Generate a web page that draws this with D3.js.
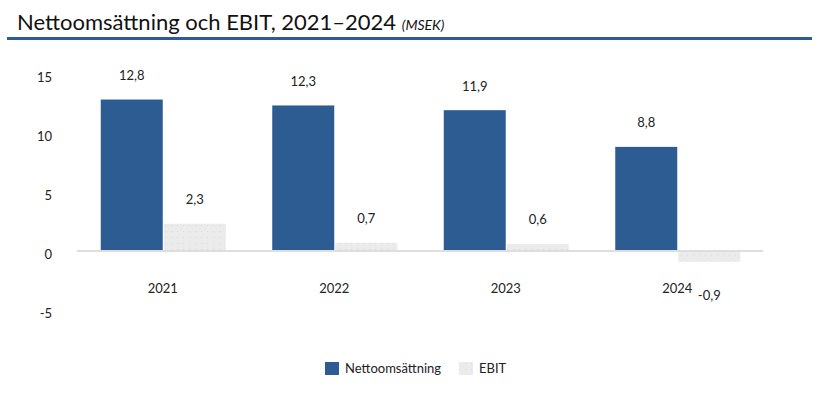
<!DOCTYPE html>
<html><head><meta charset="utf-8">
<script src="https://cdn.jsdelivr.net/npm/d3@7"></script>
<style>body{margin:0;background:#fff}svg{display:block}text{font-family:Lato,"Open Sans",sans-serif;fill:#222}</style>
</head><body><svg id="c" width="820" height="397"></svg>
<script>
const categories = ["2021","2022","2023","2024"];
const netto = [12.8,12.3,11.9,8.8];
const ebit = [2.3,0.7,0.6,-0.9];
const yTicks = [-5,0,5,10,15];
const seriesNames = ["Nettoomsättning","EBIT"];
const colors = ["#2c5c92","#ebebeb"];

const svg = d3.select("#c");
const defs = svg.append("defs");
const pat = defs.append("pattern").attr("id","dots").attr("width",6).attr("height",6).attr("patternUnits","userSpaceOnUse");
pat.append("rect").attr("width",6).attr("height",6).attr("fill","#ebebeb");
pat.append("rect").attr("x",3).attr("y",3).attr("width",1).attr("height",1).attr("fill","#dcdcdc");

// title
const t = svg.append("text").attr("x",17).attr("y",30).style("font-size","22px").style("font-weight","400").style("fill","#111");
t.append("tspan").text("Nettoomsättning och EBIT, 2021–2024 ");
t.append("tspan").style("font-size","14px").style("font-style","italic").text("(MSEK)");
svg.append("rect").attr("x",7).attr("y",37).attr("width",805).attr("height",3).attr("fill","#2c5c92");

const x = d3.scaleBand().domain(categories).range([77,763]).padding(0);
const y = d3.scaleLinear().domain([-5,15]).range([310.2,73.5]);
const bw = 62;

// y axis labels
svg.append("g").selectAll("text").data(yTicks).join("text")
  .attr("x",52).attr("y",d=>y(d)+3.5).attr("dy","0.35em").attr("text-anchor","end")
  .style("font-size","13px").text(d=>d);

// bars
const cx = c => x(c)+x.bandwidth()/2;
svg.append("g").selectAll("rect").data(categories).join("rect")
  .attr("x",c=>cx(c)-bw).attr("width",bw)
  .attr("y",(c,i)=>y(netto[i])).attr("height",(c,i)=>y(0)-y(netto[i]))
  .attr("fill",colors[0]);
svg.append("g").selectAll("rect").data(categories).join("rect")
  .attr("x",c=>cx(c)+1).attr("width",bw)
  .attr("y",(c,i)=>y(Math.max(0,ebit[i]))).attr("height",(c,i)=>Math.abs(y(0)-y(ebit[i])))
  .attr("fill","url(#dots)");

// zero line
svg.append("line").attr("x1",77).attr("x2",763).attr("y1",y(0)).attr("y2",y(0)).attr("stroke","#dedede").attr("stroke-width",2);

const fmt = v => String(v).replace(".",",");
// value labels
svg.append("g").selectAll("text").data(categories).join("text")
  .attr("x",c=>cx(c)-bw/2).attr("y",(c,i)=>y(netto[i])-24).attr("dy","0.35em").attr("text-anchor","middle")
  .style("font-size","13px").text((c,i)=>fmt(netto[i]));
svg.append("g").selectAll("text").data(categories).join("text")
  .attr("x",c=>cx(c)+1+bw/2).attr("y",(c,i)=>ebit[i]>=0?y(ebit[i])-24:y(ebit[i])+34).attr("dy","0.35em").attr("text-anchor","middle")
  .style("font-size","13px").text((c,i)=>fmt(ebit[i]));

// category labels
svg.append("g").selectAll("text").data(categories).join("text")
  .attr("x",c=>cx(c)).attr("y",288).attr("dy","0.35em").attr("text-anchor","middle")
  .style("font-size","13px").text(c=>c);

// legend
const leg = [{n:seriesNames[0],x:325,f:colors[0]},{n:seriesNames[1],x:459,f:"url(#dots)"}];
const lg = svg.append("g").selectAll("g").data(leg).join("g");
lg.append("rect").attr("x",d=>d.x).attr("y",362).attr("width",14).attr("height",13).attr("fill",d=>d.f);
lg.append("text").attr("x",d=>d.x+20).attr("y",372).attr("dy","0.1em").style("font-size","13px").text(d=>d.n);
</script></body></html>
